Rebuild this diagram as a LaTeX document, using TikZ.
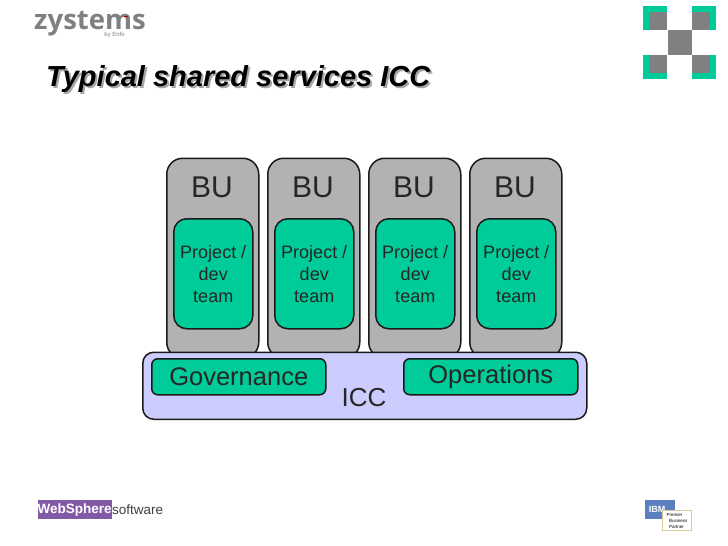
\documentclass[tikz,border=0pt]{standalone}
\usepackage{fontspec}
\setmainfont{Liberation Sans}
\newfontfamily\logofont{Open Sans}
\definecolor{bugray}{HTML}{B2B2B2}
\definecolor{teamgreen}{HTML}{00CC99}
\definecolor{iccblue}{HTML}{CCCCFF}
\definecolor{edge}{HTML}{1A1A1A}
\definecolor{logogray}{HTML}{808080}
\definecolor{wspurple}{HTML}{8259A5}
\definecolor{ibmblue}{HTML}{5B7FBF}
\definecolor{tan}{HTML}{D8CC98}
\tikzset{
  box/.style={draw=edge,line width=1.5pt,anchor=north west,inner sep=0pt,align=center,text=black!85},
  bubox/.style={box,fill=bugray,rounded corners=16pt,minimum width=92pt,minimum height=200pt},
  teambox/.style={box,fill=teamgreen,rounded corners=13pt,minimum width=79pt,minimum height=110pt,font=\fontsize{18}{22}\selectfont},
  iccbox/.style={box,fill=iccblue,rounded corners=11pt,minimum width=444pt,minimum height=67pt},
  subbox/.style={box,fill=teamgreen,rounded corners=6pt,minimum width=174pt,minimum height=36pt,font=\fontsize{25.5}{28}\selectfont},
  bulabel/.style={font=\fontsize{30}{32}\selectfont,text=black!85},
  green/.style={fill=teamgreen,anchor=north west,inner sep=0pt,minimum width=24pt,minimum height=24pt},
  grays/.style={fill=logogray,anchor=north west,inner sep=0pt,minimum width=18pt,minimum height=18pt},
}
\begin{document}
\begin{tikzpicture}[x=1pt,y=-1pt]
\useasboundingbox (0,0) rectangle (728,546);
% logos
\node[anchor=base west,inner sep=0pt,text=logogray,font=\logofont\bfseries\fontsize{27.5}{28}\selectfont] (zy) at (34,29) {zystems};
\fill[red!70!black] (124,16) rectangle (128,17.2);
\node[anchor=base east,inner sep=0pt,text=logogray,font=\fontsize{6}{7}\selectfont] (enfo) at (125,36) {by Enfo};
\node[green] (g1) at (643,6) {};
\node[green] (g2) at (692,6) {};
\node[green] (g3) at (643,54.5) {};
\node[green] (g4) at (692,54.5) {};
\node[grays] (s1) at (649,12) {};
\node[grays] (s2) at (692,12) {};
\node[grays] (s3) at (649,54.5) {};
\node[grays] (s4) at (692,54.5) {};
\node[fill=logogray,anchor=north west,inner sep=0pt,minimum width=24.5pt,minimum height=24.5pt] (s5) at (667.5,30) {};
% title
\node[anchor=base west,inner sep=0pt,text=black!35,font=\bfseries\itshape\fontsize{29}{32}\selectfont] (titleshadow) at (48,88.5) {Typical shared services ICC};
\node[anchor=base west,inner sep=0pt,text=black,font=\bfseries\itshape\fontsize{29}{32}\selectfont] (title) at (46,86.5) {Typical shared services ICC};
% BU columns
\foreach \i/\x in {1/166,2/267,3/368,4/469}{
  \node[bubox] (bu\i) at (\x,157.5) {};
  \node[bulabel] (bul\i) at (\x+46,187) {BU};
  \node[teambox] (team\i) at (\x+7,218) {Project /\\dev\\team};
}
% ICC
\node[iccbox] (icc) at (142,351.5) {};
\node[anchor=base,inner sep=0pt,font=\fontsize{26}{28}\selectfont,text=black!85] (icclabel) at (364,406) {ICC};
\node[subbox] (gov) at (151,358) {Governance};
\node[subbox] (ops) at (403,358) {Operations};
% footer
\node[fill=wspurple,text=white,anchor=north west,inner sep=0pt,minimum width=71pt,minimum height=19pt,font=\bfseries\fontsize{13.5}{14}\selectfont] (ws) at (37.5,500) {WebSphere};
\node[anchor=base west,inner sep=0pt,text=black!75,font=\fontsize{13.5}{14}\selectfont] (sw) at (112,514) {software};
\node[fill=ibmblue,text=white,anchor=north west,inner sep=0pt,minimum width=30pt,minimum height=19pt,font=\bfseries\fontsize{9}{10}\selectfont] (ibm) at (645,500) {\hspace*{-6pt}IBM};
\node[draw=tan,fill=white,line width=.8pt,anchor=north west,inner sep=0pt,minimum width=29pt,minimum height=20pt,align=left,font=\fontsize{4.5}{6}\selectfont] (ibp) at (662,510) {Premier\\\ \ Business\\\ \ Partner};
\end{tikzpicture}
\end{document}
